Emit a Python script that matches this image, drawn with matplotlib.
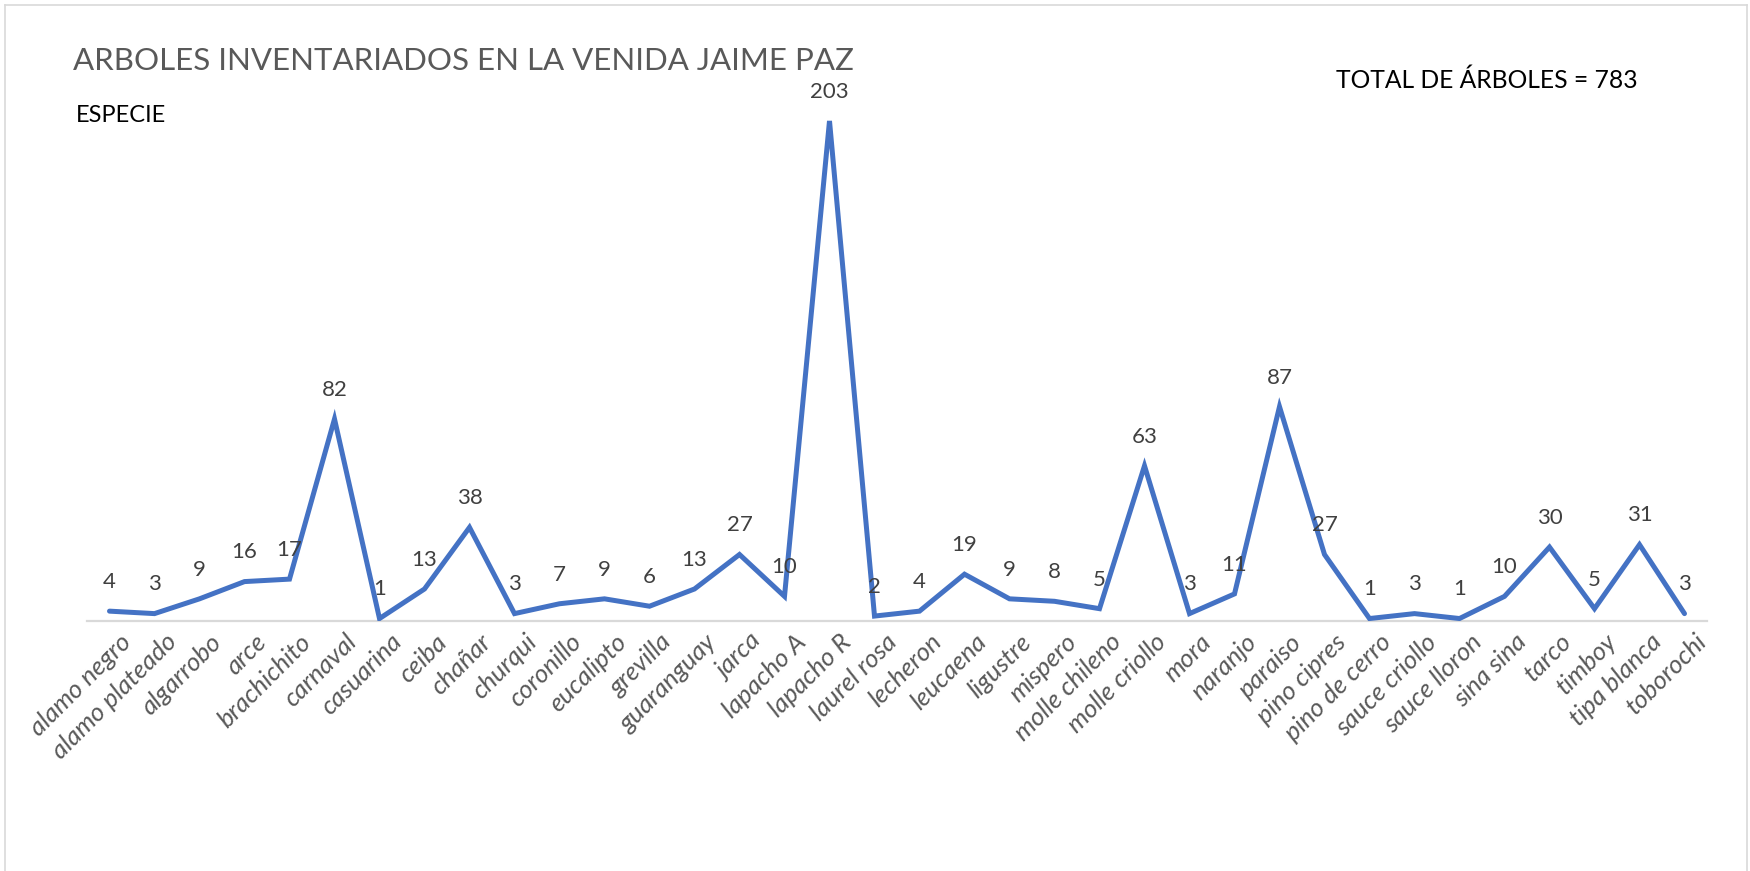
import matplotlib
matplotlib.use("Agg")
import matplotlib.pyplot as plt
from matplotlib.lines import Line2D
from matplotlib import transforms

species = ["alamo negro", "alamo plateado", "algarrobo", "arce", "brachichito",
           "carnaval", "casuarina", "ceiba", "chañar", "churqui", "coronillo",
           "eucalipto", "grevilla", "guaranguay", "jarca", "lapacho A", "lapacho R",
           "laurel rosa", "lecheron", "leucaena", "ligustre", "mispero",
           "molle chileno", "molle criollo", "mora", "naranjo", "paraiso",
           "pino cipres", "pino de cerro", "sauce criollo", "sauce lloron",
           "sina sina", "tarco", "timboy", "tipa blanca", "toborochi"]
counts = [4, 3, 9, 16, 17, 82, 1, 13, 38, 3, 7, 9, 6, 13, 27, 10, 203,
          2, 4, 19, 9, 8, 5, 63, 3, 11, 87, 27, 1, 3, 1, 10, 30, 5, 31, 3]

title = "ARBOLES INVENTARIADOS EN LA VENIDA JAIME PAZ"
subtitle = "ESPECIE"
total_text = "TOTAL DE ÁRBOLES = 783"

FONT = ["Lato", "DejaVu Sans"]
plt.rcParams["font.family"] = FONT

W, H = 1750, 871
fig = plt.figure(figsize=(W / 100, H / 100), dpi=100)

left_px, right_px = 87, 1707
base_px, top_px = 621, 100
ax = fig.add_axes([left_px / W, 1 - base_px / H, (right_px - left_px) / W, (base_px - top_px) / H])

x = list(range(len(species)))
ax.plot(x, counts, color="#4472C4", linewidth=3.6, solid_joinstyle="miter",
        solid_capstyle="round", zorder=3)
ax.set_xlim(-0.5, len(species) - 0.5)
ax.set_ylim(0, 211.5)

for xi, v in zip(x, counts):
    ax.annotate(str(v), (xi, v), xytext=(0, 21), textcoords="offset points",
                ha="center", va="center", fontsize=16, color="#404040", zorder=4)

for s in ["top", "right", "left"]:
    ax.spines[s].set_visible(False)
ax.spines["bottom"].set_color("#D9D9D9")
ax.spines["bottom"].set_linewidth(1.6)
ax.set_yticks([])
ax.set_xticks(x)
ax.set_xticklabels([])
ax.tick_params(axis="x", length=0)

offset = transforms.ScaledTranslation(10 / 100, -9 / 100, fig.dpi_scale_trans)
trans = ax.get_xaxis_transform() + offset
for xi, name in zip(x, species):
    ax.text(xi, 0, name, transform=trans, rotation=45, rotation_mode="anchor",
            ha="right", va="top", fontsize=18.5, color="#595959", style="italic")

fig.text(73 / W, 1 - 61 / H, title, fontsize=22.5, color="#595959",
         ha="left", va="center")
fig.text(76 / W, 1 - 115 / H, subtitle, fontsize=17, color="black",
         ha="left", va="center")
fig.text(1336 / W, 1 - 80 / H, total_text, fontsize=17.7, color="black",
         ha="left", va="center")

bc = "#D9D9D9"
fig.add_artist(Line2D([5 / W, 5 / W], [0, 1 - 5 / H], color=bc, linewidth=1.2, transform=fig.transFigure))
fig.add_artist(Line2D([5 / W, 1747 / W], [1 - 5 / H, 1 - 5 / H], color=bc, linewidth=1.2, transform=fig.transFigure))
fig.add_artist(Line2D([1747 / W, 1747 / W], [0, 1 - 5 / H], color=bc, linewidth=1.2, transform=fig.transFigure))

fig.savefig("out.png", dpi=100, facecolor="white")
